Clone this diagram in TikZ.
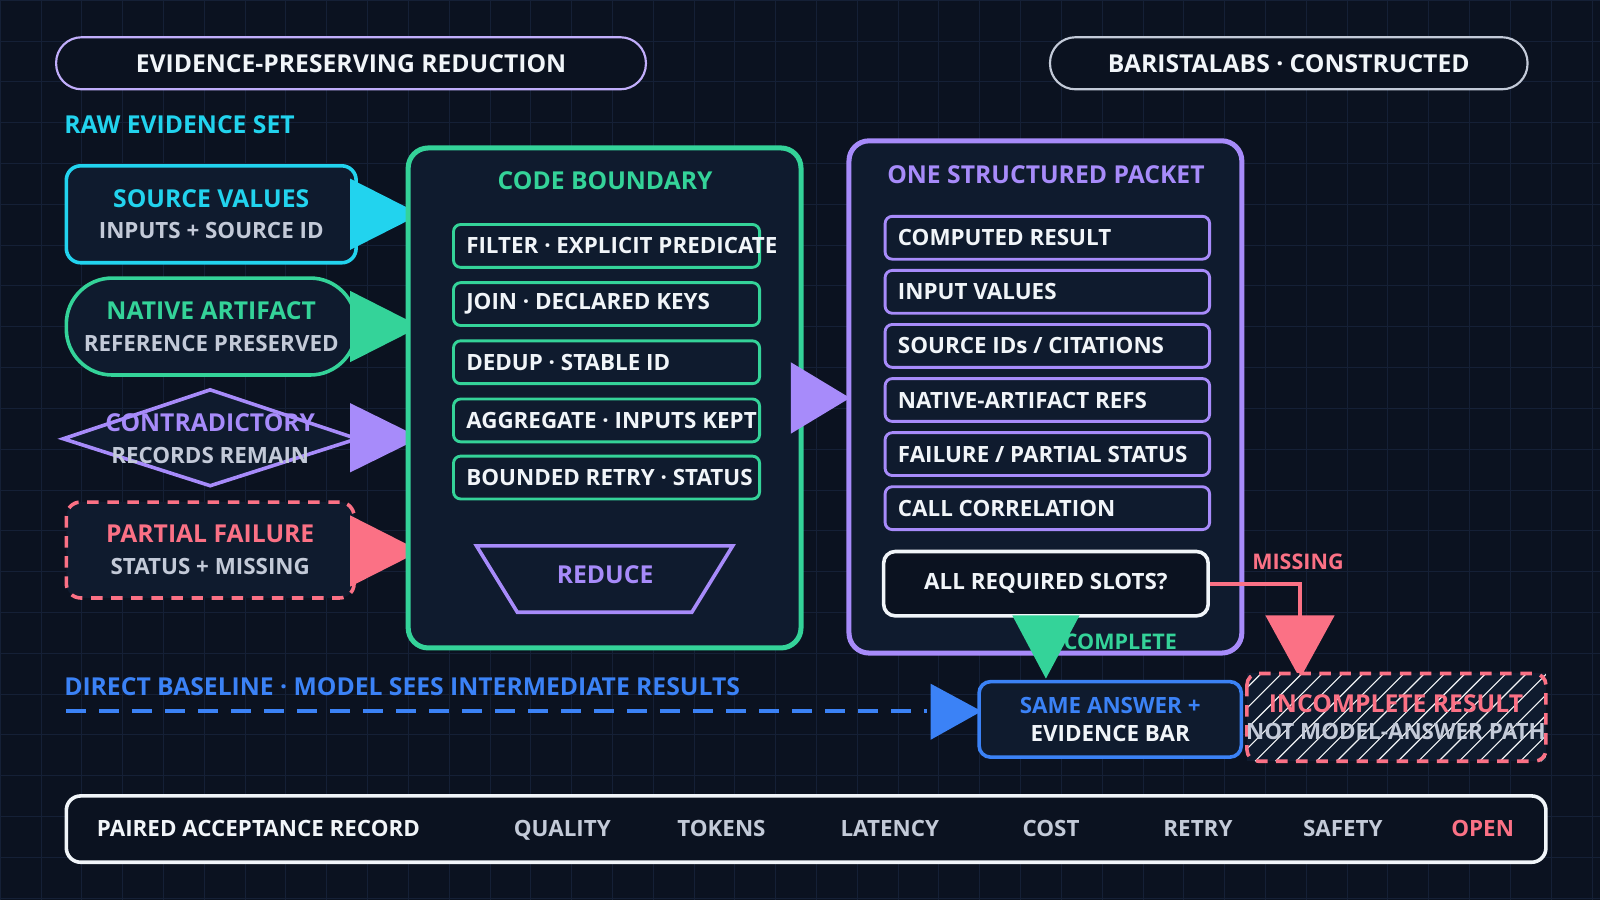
\documentclass[tikz,border=0pt]{standalone}
\usepackage{fontspec}
\setmainfont{Open Sans}
\definecolor{bg}{HTML}{0B1220}
\definecolor{grid}{HTML}{152036}
\definecolor{panel}{HTML}{0F1B2E}
\definecolor{cyn}{HTML}{22D3EE}
\definecolor{grn}{HTML}{34D399}
\definecolor{pur}{HTML}{A78BFA}
\definecolor{pnk}{HTML}{FB7185}
\definecolor{blu}{HTML}{3B82F6}
\definecolor{txt}{HTML}{F1F5F9}
\definecolor{gry}{HTML}{C3CAD8}
\newcommand\fbig{\bfseries\fontsize{17.2}{20}\selectfont}
\newcommand\fmid{\bfseries\fontsize{15.6}{18}\selectfont}
\begin{document}
\begin{tikzpicture}[x=0.025cm,y=-0.025cm,
 big/.style={font=\fbig},
 mid/.style={font=\fmid},
 sml/.style={font=\bfseries\fontsize{15}{17}\selectfont},
 item/.style={draw=#1,line width=2pt,rounded corners=5pt,fill=panel,minimum width=300*0.025cm,minimum height=42*0.025cm,anchor=west,text=txt,mid,inner sep=0pt},
 lbl/.style={anchor=west,text=txt,mid}]
\fill[bg] (0,0) rectangle (1568,882);
\useasboundingbox (0,0) rectangle (1568,882);
\foreach \i in {0,40,...,1560} \draw[grid,line width=0.4pt] (\i,0)--(\i,882);
\foreach \i in {0,40,...,880} \draw[grid,line width=0.4pt] (0,\i)--(1568,\i);
% header pills
\node[draw=pur!70!white,line width=1.5pt,rounded corners=25*0.025cm,fill=bg,minimum width=578*0.025cm,minimum height=51*0.025cm,text=txt,big] (h1) at (344,62) {EVIDENCE-PRESERVING REDUCTION};
\node[draw=gry,line width=1.5pt,rounded corners=25*0.025cm,fill=bg,minimum width=468*0.025cm,minimum height=51*0.025cm,text=txt,big] (h2) at (1263,62) {BARISTALABS · CONSTRUCTED};
\node[anchor=west,text=cyn,big] (raw) at (58,122) {RAW EVIDENCE SET};
% inputs
\node[draw=cyn,line width=2.5pt,rounded corners=10pt,fill=panel,minimum width=284*0.025cm,minimum height=95*0.025cm,align=center] (sv) at (207,210) {\color{cyn}\fbig SOURCE VALUES\\[10pt]\color{gry}\fmid INPUTS + SOURCE ID};
\node[draw=grn,line width=2.5pt,rounded corners=45*0.025cm,fill=panel,minimum width=284*0.025cm,minimum height=95*0.025cm,align=center] (na) at (207,320) {\color{grn}\fbig NATIVE ARTIFACT\\[10pt]\color{gry}\fmid REFERENCE PRESERVED};
\draw[pur,line width=2.5pt,fill=panel] (62,430)--(206,382)--(350,430)--(206,476)--cycle;
\node[align=center] (cr) at (206,430) {\color{pur}\fbig CONTRADICTORY\\[10pt]\color{gry}\fmid RECORDS REMAIN};
\node[draw=pnk,line width=2.5pt,dash pattern=on 8pt off 6pt,rounded corners=10pt,fill=panel,minimum width=282*0.025cm,minimum height=94*0.025cm,align=center] (pf) at (206,539) {\color{pnk}\fbig PARTIAL FAILURE\\[10pt]\color{gry}\fmid STATUS + MISSING};
\fill[cyn] (343,175)--(343,245)--(412,210)--cycle;
\fill[grn] (343,285)--(343,355)--(412,320)--cycle;
\fill[pur] (343,395)--(343,463)--(412,429)--cycle;
\fill[pnk] (343,505)--(343,575)--(412,540)--cycle;
% code boundary
\draw[grn,line width=3.5pt,rounded corners=14pt,fill=panel] (400,145) rectangle (785,635);
\node[text=grn,big] (cb) at (593,177) {CODE BOUNDARY};
\foreach \y/\t [count=\k] in {241/{FILTER · EXPLICIT PREDICATE},298/{JOIN · DECLARED KEYS},355/{DEDUP · STABLE ID},412/{AGGREGATE · INPUTS KEPT},468/{BOUNDED RETRY · STATUS}}{
 \node[item=grn] (c\k) at (443,\y) {};
 \node[lbl] at (452,\y) {\t};}
\draw[pur,line width=2.5pt,fill=panel] (467,535)--(718,535)--(678,600)--(507,600)--cycle;
\node[text=pur,big] (red) at (593,563) {REDUCE};
\fill[pur] (775,355)--(775,425)--(833,390)--cycle;
% packet
\draw[pur,line width=3.5pt,rounded corners=14pt,fill=panel] (832,138) rectangle (1217,640);
\node[text=pur,big] (pk) at (1025,171) {ONE STRUCTURED PACKET};
\foreach \y/\t [count=\k] in {233/{COMPUTED RESULT},286/{INPUT VALUES},339/{SOURCE IDs / CITATIONS},392/{NATIVE-ARTIFACT REFS},445/{FAILURE / PARTIAL STATUS},498/{CALL CORRELATION}}{
 \node[item=pur,minimum width=318*0.025cm] (p\k) at (866,\y) {};
 \node[lbl] at (875,\y) {\t};}
\node[draw=txt,line width=2.5pt,rounded corners=8pt,fill=bg,minimum width=318*0.025cm,minimum height=63*0.025cm,text=txt,mid] (all) at (1025,572) {ALL REQUIRED SLOTS?};
% outcomes
\coordinate (mc) at (1274,572);
\draw[pnk,line width=3pt] (all.east)--(mc)--(1274,610);
\fill[pnk] (1240,603)--(1308,603)--(1274,665)--cycle;
\node[text=pnk,sml] (ms) at (1272,551) {MISSING};
\fill[grn] (992,603)--(1058,603)--(1025,665)--cycle;
\node[text=grn,sml] (cp) at (1098,629) {COMPLETE};
\node[anchor=west,text=blu,big] (db) at (58,673) {DIRECT BASELINE · MODEL SEES INTERMEDIATE RESULTS};
\coordinate (ds) at (65,697);
\coordinate (de) at (908,697);
\draw[blu,line width=3pt,dash pattern=on 14pt off 9pt] (ds)--(de);
\fill[blu] (912,670)--(912,725)--(962,697)--cycle;
\node[draw=blu,line width=2.5pt,rounded corners=8pt,fill=panel,minimum width=257*0.025cm,minimum height=74*0.025cm,align=center] (sa) at (1088,705) {\color{blu}\fmid SAME ANSWER +\\[7pt]\color{txt}\fmid EVIDENCE BAR};
\fill[panel] (1222,660) rectangle (1515,746);
\begin{scope}
\clip (1222,660) rectangle (1515,746);
\foreach \i in {1130,1150,...,1520} \draw[gry!18,line width=0.8pt] (\i,746)--(\i+86,660);
\end{scope}
\draw[pnk,line width=2.5pt,dash pattern=on 8pt off 6pt,rounded corners=8pt] (1222,660) rectangle (1515,746);
\node[align=center] (ir) at (1368,703) {\color{pnk}\fbig INCOMPLETE RESULT\\[7pt]\color{gry}\fmid NOT MODEL-ANSWER PATH};
% bottom bar
\draw[txt,line width=2.5pt,rounded corners=10pt,fill=bg] (65,780) rectangle (1515,845);
\node[anchor=base west,text=txt,mid] (par) at (90,820) {PAIRED ACCEPTANCE RECORD};
\foreach \x/\t in {551/QUALITY,707/TOKENS,872/LATENCY,1030/COST,1174/RETRY,1316/SAFETY}
 \node[anchor=base,text=gry,mid] at (\x,820) {\t};
\node[anchor=base,text=pnk,mid] (op) at (1453,820) {OPEN};
\end{tikzpicture}
\end{document}
